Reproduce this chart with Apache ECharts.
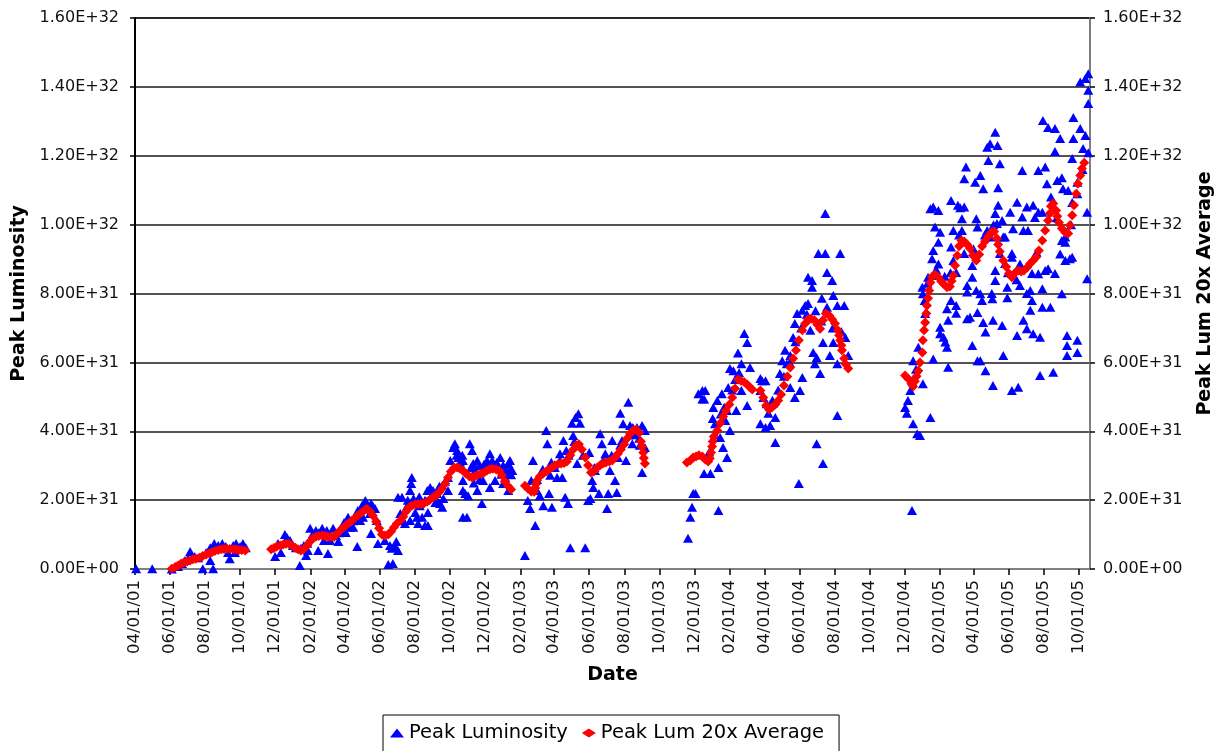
<!DOCTYPE html>
<html>
<head>
<meta charset="utf-8">
<title>Peak Luminosity</title>
<script src="https://cdn.jsdelivr.net/npm/echarts@6/dist/echarts.min.js"></script>
<style>
  html, body { margin: 0; padding: 0; background: #fff; }
  #chart { width: 1225px; height: 751px; }
</style>
</head>
<body>
<div id="chart"></div>
<script>
// x values are days counted from 04/01/01; y values are in units of 1E+31.
const LUM_UNIT = 1e31;
const axisEndDay = 1663;

const dateTicks = [
  '04/01/01', '06/01/01', '08/01/01', '10/01/01', '12/01/01',
  '02/01/02', '04/01/02', '06/01/02', '08/01/02', '10/01/02', '12/01/02',
  '02/01/03', '04/01/03', '06/01/03', '08/01/03', '10/01/03', '12/01/03',
  '02/01/04', '04/01/04', '06/01/04', '08/01/04', '10/01/04', '12/01/04',
  '02/01/05', '04/01/05', '06/01/05', '08/01/05', '10/01/05'
];

// Peak luminosity of each store: [day, value]
const peakLuminosity = [
  // 2001
  [2,0.01],[30,0.01],[64,0],[75,0.07],[82,0.16],[87,0.25],[92,0.30],[96,0.51],[104,0.36],[110,0.33],
  [118,0.01],[124,0.48],[131,0.62],[131,0.25],[136,0.01],[138,0.74],[145,0.68],[152,0.74],[158,0.65],
  [162,0.48],[165,0.30],[171,0.68],[174,0.48],[176,0.74],[183,0.65],[188,0.74],[193,0.62],
  // Dec 2001 - Jun 2002
  [244,0.36],[249,0.74],[254,0.48],[261,1.00],[265,0.91],[270,0.83],[275,0.68],[280,0.62],[287,0.10],
  [289,0.60],[294,0.68],[298,0.39],[301,0.54],[305,1.18],[310,1.03],[315,1.12],[319,0.54],[326,1.18],
  [329,0.83],[334,1.12],[336,0.45],[340,0.83],[345,1.18],[350,0.97],[354,0.80],[359,1.12],[364,1.35],
  [367,1.06],[371,1.50],[374,1.21],[380,1.21],[385,1.41],[387,0.65],[388,1.70],[392,1.41],[395,1.84],
  [397,1.50],[401,1.99],[406,1.84],[409,1.61],[411,1.90],[414,1.84],[418,1.76],[411,1.03],[423,0.74],
  [421,1.41],[300,0.75],[320,1.05],[330,1.00],[355,1.05],[370,1.25],[380,1.40],[390,1.60],[400,1.75],
  [435,0.83],[441,0.13],[444,0.68],[447,0.60],[449,0.16],[453,0.65],[455,0.80],[458,0.54],
  // Jul 2002 - Jan 2003
  [458,2.08],[462,1.61],[465,2.08],[467,1.41],[470,1.32],[474,1.84],[479,2.28],[479,1.41],[481,2.48],
  [482,2.66],[488,1.64],[491,1.50],[493,1.32],[496,1.84],[500,1.50],[505,1.26],[509,2.28],[510,1.64],
  [510,1.26],[514,2.37],[519,2.28],[523,1.93],[526,2.19],[526,1.99],[531,1.90],[535,1.79],[537,2.05],
  [545,2.66],[545,2.28],[549,3.15],[554,3.53],[557,3.64],[561,3.44],[563,3.24],[570,3.30],[571,3.15],
  [571,2.57],[571,2.28],[571,1.50],[575,2.19],[578,1.50],[580,2.13],[583,3.64],[587,3.44],[589,3.06],
  [596,3.15],[596,2.28],[604,1.90],[606,2.57],[613,3.15],[618,3.35],[618,2.37],[622,3.15],[627,2.57],
  [630,3.09],[636,3.24],[641,3.01],[641,2.48],[644,2.86],[648,2.77],[650,2.28],[650,3.06],[653,2.92],
  [653,3.15],[655,2.74],[657,2.86],
  [475,2.00],[485,2.05],[495,2.10],[505,2.00],[515,2.10],[520,2.15],[530,2.40],[540,2.55],
  [560,3.30],[566,3.10],[585,2.95],[592,2.85],[600,3.00],[608,3.05],[615,2.95],[625,3.00],[633,2.95],
  [638,2.75],[645,2.65],[600,2.60],[590,2.50],
  // 2003
  [679,0.39],[684,1.99],[688,1.76],[690,2.57],[693,3.15],[697,1.26],[700,2.28],[705,2.13],[711,1.84],
  [716,4.02],[718,3.64],[721,2.19],[723,2.72],[726,1.79],[731,2.95],[735,2.66],[740,3.15],[744,2.66],
  [746,3.73],[749,2.08],[751,3.44],[754,1.90],[758,0.62],[761,4.23],[763,3.88],[767,4.40],[772,4.51],
  [775,4.23],[770,3.06],[784,0.62],[789,1.99],[791,3.38],[793,2.05],[796,2.57],[798,2.37],[801,2.86],
  [808,2.19],[810,3.93],[813,3.64],[819,3.35],[822,1.76],[824,2.19],[827,2.86],[831,3.73],[836,2.57],
  [839,2.22],[841,3.24],[845,4.52],[848,3.73],[850,4.22],[855,3.15],[859,4.84],[862,4.17],[866,3.64],
  [867,4.11],[874,4.11],[879,3.59],[883,4.17],[888,4.02],[888,3.53],[883,2.80],
  [700,2.60],[710,2.90],[725,3.10],[740,3.35],[755,3.30],[765,3.70],[780,3.30],[800,2.95],[815,3.15],
  [830,3.30],[845,3.60],[860,3.90],[870,3.90],[878,3.80],
  // Dec 2003 - Mar 2004
  [963,0.89],[967,1.50],[970,1.79],[972,2.19],[976,2.19],[981,5.09],[988,5.18],[988,4.94],[991,2.77],
  [1002,2.77],[1016,1.70],[1016,2.95],[1019,3.82],[1024,3.53],[1031,3.24],[1006,4.37],[1007,4.69],
  [1014,4.89],[993,5.18],[991,4.94],[1022,5.09],[1031,4.60],[1036,4.02],[1033,5.27],[1036,5.82],
  [1042,5.76],[1050,6.27],[1056,5.96],[1061,6.84],[1066,6.58],[1071,5.85],[1066,4.75],[1056,5.18],
  [1047,4.60],[1010,4.22],[1028,4.31],
  [1000,3.40],[1010,3.90],[1020,4.50],[1026,4.70],[1040,5.20],[1045,5.50],[1052,5.70],
  // Apr - Aug 2004
  [1089,5.53],[1092,5.47],[1098,5.47],[1089,5.18],[1094,4.98],[1089,4.22],[1098,4.11],[1106,4.17],
  [1115,4.40],[1111,4.81],[1115,3.67],[1103,4.52],[1123,5.68],[1127,6.05],[1135,5.96],[1141,6.20],
  [1146,6.72],[1149,7.13],[1153,7.42],[1141,5.27],[1149,4.98],[1158,5.18],[1162,5.56],[1156,2.48],
  [1162,7.51],[1167,7.65],[1172,8.47],[1179,8.38],[1179,8.18],[1172,7.71],[1181,6.29],[1187,6.14],
  [1184,5.96],[1193,5.68],[1187,3.64],[1190,9.16],[1202,9.16],[1202,10.32],[1228,9.16],[1205,8.61],
  [1214,8.38],[1216,7.94],[1223,7.65],[1235,7.65],[1196,7.86],[1198,6.58],[1210,6.20],[1216,6.58],
  [1223,5.96],[1237,6.72],[1242,6.20],[1223,4.46],[1198,3.06],[1132,6.35],[1176,6.93],
  [1100,4.80],[1110,4.90],[1120,5.20],[1130,5.60],[1140,6.00],[1150,6.60],[1160,7.00],[1170,7.40],
  [1185,7.50],[1195,7.20],[1205,7.60],[1215,7.00],[1230,6.90],
  // Dec 2004 - Oct 2005
  [1353,1.70],[1341,4.69],[1344,4.52],[1346,4.89],[1350,5.18],[1353,5.47],[1355,4.22],[1362,3.93],
  [1367,3.88],[1355,6.05],[1364,6.44],[1372,5.38],[1385,4.40],[1390,6.10],[1371,8.18],[1372,7.99],
  [1376,7.42],[1381,8.47],[1385,10.46],[1390,10.51],[1399,10.41],[1393,9.93],[1388,9.01],[1390,9.25],
  [1399,9.49],[1402,9.78],[1399,8.86],[1402,6.83],[1408,6.73],[1402,7.02],[1411,6.59],[1414,6.44],
  [1416,5.86],[1414,7.56],[1416,7.22],[1421,7.80],[1430,7.65],[1425,8.96],[1421,9.35],[1425,9.83],
  [1421,10.70],[1433,10.56],[1440,9.83],[1440,10.17],[1444,10.51],[1447,11.67],[1444,11.33],[1449,8.04],
  [1454,7.31],[1458,6.49],[1449,8.23],[1463,11.23],[1472,11.43],[1477,11.04],[1465,10.17],[1467,9.93],
  [1458,8.81],[1465,8.09],[1472,7.99],[1467,7.45],[1477,7.16],[1472,6.05],[1481,5.76],[1484,12.25],
  [1486,11.86],[1498,12.68],[1489,12.35],[1502,12.30],[1506,11.77],[1503,11.07],[1545,11.57],[1573,11.57],
  [1585,11.67],[1588,11.19],[1606,11.28],[1614,11.36],[1616,11.04],[1625,10.99],[1641,10.90],[1641,11.23],
  [1536,10.65],[1503,10.56],[1524,10.36],[1498,10.32],[1553,10.51],[1564,10.56],[1573,10.36],[1580,10.36],
  [1545,10.22],[1547,9.83],[1529,9.88],[1510,10.12],[1515,9.64],[1614,9.54],[1620,9.49],[1658,10.36],
  [1611,9.15],[1620,8.96],[1628,9.01],[1590,8.72],[1573,8.57],[1541,8.86],[1527,9.05],[1498,8.38],
  [1519,8.18],[1541,8.23],[1559,8.09],[1580,8.14],[1614,7.99],[1658,8.43],[1493,7.85],[1475,7.80],
  [1519,7.88],[1562,7.80],[1580,7.60],[1594,7.60],[1547,7.22],[1559,7.51],[1553,6.98],[1564,6.83],
  [1576,6.73],[1536,6.78],[1510,7.07],[1494,7.22],[1481,6.88],[1623,6.78],[1641,6.64],[1623,6.49],
  [1641,6.29],[1623,6.20],[1512,6.20],[1494,5.33],[1527,5.18],[1538,5.28],[1576,5.62],[1599,5.71],
  [1660,14.38],[1655,14.24],[1646,14.14],[1660,13.90],[1660,13.52],[1581,13.02],[1590,12.82],[1602,12.79],
  [1611,12.50],[1602,12.12],[1634,13.11],[1646,12.79],[1655,12.59],[1634,12.50],[1651,12.21],[1660,12.09],
  [1632,11.92],[1437,10.49],[1506,9.16],[1515,8.87],[1498,8.67],[1393,8.52],[1430,8.61],[1458,8.47],
  [1562,8.58],[1585,8.67],[1602,8.58],[1632,9.05],[1620,9.64],[1492,8.00],[1553,8.00],[1444,9.16],
  [1527,9.16],[1512,9.64],[1489,9.64],[1484,9.83],[1501,10.03],[1567,10.21],[1555,9.83],[1632,10.64],
  [1430,7.43],[1449,7.27],[1467,6.05],
  [1360,5.80],[1375,7.80],[1380,8.30],[1395,8.70],[1410,8.50],[1420,8.60],[1435,9.70],[1460,9.30],
  [1480,9.70],[1495,10.00],[1520,8.60],[1535,8.40],[1570,9.20],[1595,10.80],[1605,10.20],[1630,10.00],
  [1650,11.60]
];

// Running average over 20 stores: [day, value]
const peakLumAverage = [
  [64,0.01],[70,0.06],[75,0.10],[80,0.15],[85,0.19],[91,0.22],[96,0.25],[101,0.28],[106,0.30],
  [113,0.33],[118,0.38],[124,0.42],[129,0.46],[134,0.49],[139,0.52],[145,0.55],[150,0.57],[155,0.58],
  [160,0.59],[165,0.58],[171,0.57],[176,0.57],[181,0.55],[186,0.55],[192,0.54],
  [237,0.57],[242,0.61],[247,0.65],[253,0.68],[258,0.71],[263,0.73],[268,0.73],[273,0.68],[279,0.62],
  [284,0.57],[289,0.54],[294,0.58],[300,0.68],[305,0.80],[310,0.90],[315,0.94],[320,0.96],[326,0.97],
  [331,0.96],[336,0.94],[341,0.93],[347,0.94],[352,1.03],[357,1.12],[362,1.19],[367,1.26],[373,1.34],
  [378,1.41],[383,1.48],[388,1.55],[394,1.63],[399,1.70],[404,1.74],[409,1.68],[414,1.55],[420,1.38],
  [425,1.18],[430,1.00],[435,0.97],[441,1.00],[446,1.09],[451,1.21],[456,1.32],[462,1.41],[467,1.52],
  [472,1.67],[477,1.79],[482,1.84],[488,1.87],[493,1.89],[498,1.89],[503,1.90],[509,1.96],[514,2.02],
  [519,2.08],[524,2.13],[529,2.22],[535,2.34],[540,2.48],[545,2.66],[550,2.83],[556,2.95],[561,2.95],
  [566,2.91],[571,2.86],[576,2.77],[582,2.69],[587,2.66],[592,2.69],[597,2.74],[603,2.77],[608,2.80],
  [613,2.86],[618,2.90],[623,2.91],[629,2.89],[634,2.86],[639,2.72],[644,2.54],[650,2.40],[655,2.31],
  [679,2.42],[684,2.34],[690,2.25],[695,2.24],[697,2.35],[698,2.46],[700,2.57],[705,2.69],[711,2.77],
  [716,2.83],[721,2.89],[726,2.95],[731,3.01],[737,3.05],[742,3.06],[747,3.08],[752,3.12],[758,3.30],
  [763,3.47],[768,3.59],[773,3.62],[778,3.47],[784,3.24],[789,3.01],[794,2.80],[799,2.83],[805,2.95],
  [810,3.01],[815,3.06],[820,3.09],[826,3.12],[831,3.15],[836,3.24],[841,3.35],[846,3.47],[852,3.62],
  [857,3.79],[862,3.93],[867,4.02],[873,4.04],[878,3.96],[881,3.70],[883,3.55],[885,3.38],[886,3.22],
  [888,3.06],
  [961,3.09],[967,3.15],[972,3.24],[977,3.27],[982,3.30],[988,3.27],[993,3.18],[998,3.12],[1001,3.21],
  [1003,3.38],[1005,3.56],[1006,3.70],[1008,3.85],[1014,4.02],[1019,4.23],[1024,4.43],[1029,4.60],
  [1035,4.78],[1040,4.98],[1045,5.24],[1050,5.50],[1055,5.47],[1061,5.42],[1066,5.36],[1071,5.27],
  [1075,5.21],
  [1089,5.18],[1094,4.98],[1099,4.75],[1104,4.63],[1109,4.69],[1115,4.78],[1120,4.89],[1125,5.07],
  [1130,5.33],[1136,5.59],[1141,5.85],[1146,6.11],[1151,6.35],[1156,6.64],[1162,6.93],[1167,7.13],
  [1172,7.25],[1177,7.27],[1183,7.22],[1188,7.10],[1193,6.98],[1198,7.22],[1203,7.42],[1209,7.36],
  [1214,7.25],[1219,7.13],[1224,6.93],[1226,6.79],[1228,6.64],[1230,6.50],[1231,6.35],[1235,6.11],
  [1238,5.94],[1242,5.82],
  [1341,5.62],[1346,5.53],[1352,5.39],[1355,5.30],[1358,5.45],[1361,5.60],[1364,5.76],[1367,6.00],
  [1371,6.29],[1372,6.64],[1374,6.93],[1376,7.16],[1378,7.42],[1379,7.65],[1381,7.86],[1383,8.09],
  [1385,8.32],[1388,8.49],[1393,8.55],[1399,8.47],[1404,8.35],[1409,8.26],[1414,8.18],[1419,8.20],
  [1422,8.36],[1425,8.52],[1428,8.81],[1432,9.10],[1435,9.37],[1439,9.54],[1444,9.51],[1449,9.42],
  [1454,9.31],[1459,9.10],[1465,8.96],[1470,9.13],[1475,9.37],[1480,9.51],[1486,9.66],[1491,9.77],
  [1496,9.80],[1501,9.60],[1503,9.42],[1506,9.22],[1512,8.96],[1517,8.78],[1522,8.58],[1527,8.47],
  [1533,8.61],[1538,8.67],[1543,8.64],[1548,8.67],[1554,8.76],[1559,8.87],[1564,8.96],[1569,9.05],
  [1574,9.25],[1580,9.54],[1585,9.83],[1590,10.12],[1593,10.32],[1595,10.53],[1599,10.61],[1604,10.41],
  [1606,10.24],[1609,10.06],[1614,9.89],[1620,9.77],[1625,9.74],[1628,9.98],[1632,10.27],[1635,10.56],
  [1639,10.90],[1642,11.19],[1646,11.43],[1649,11.63],[1653,11.80]
];

// Day number of a MM/DD/YY label, counted from 04/01/01.
function dayOf(label) {
  const [m, d, y] = label.split('/').map(Number);
  return Math.round((Date.UTC(2000 + y, m - 1, d) - Date.UTC(2001, 3, 1)) / 86400000);
}
const tickDays = dateTicks.map(dayOf);

function dateLabel(value) {
  const i = tickDays.indexOf(Math.round(value));
  return i >= 0 ? dateTicks[i] : '';
}

// Excel-style scientific labels: 1.60E+32, 0.00E+00
function sciLabel(value) {
  return value.toExponential(2).toUpperCase()
    .replace(/E([+-])(\d)$/, (m, sign, digit) => 'E' + sign + '0' + digit);
}

const toPoints = rows => rows.map(([day, v]) => [day, v * LUM_UNIT]);

const FONT = 'DejaVu Sans';

const yAxisBase = {
  type: 'value',
  min: 0,
  max: 1.6e32,
  interval: 2e31,
  nameLocation: 'middle',
  nameRotate: 90,
  nameGap: 106,
  nameTextStyle: { fontFamily: FONT, fontSize: 19, fontWeight: 'bold', color: '#000' },
  axisTick: { show: true, inside: false, length: 5, lineStyle: { color: '#000', width: 1.5 } },
  axisLabel: { formatter: sciLabel, fontFamily: FONT, fontSize: 16, color: '#111' }
};

const chart = echarts.init(document.getElementById('chart'), null, { renderer: 'canvas' });

chart.setOption({
  animation: false,
  backgroundColor: '#ffffff',
  textStyle: { fontFamily: FONT },
  grid: { left: 135, right: 135, top: 18, bottom: 182, containLabel: false },
  legend: {
    left: 383,
    top: 715,
    orient: 'horizontal',
    padding: [7, 15, 40, 7],
    itemGap: 14,
    itemWidth: 14,
    itemHeight: 9,
    borderColor: '#000',
    borderWidth: 1,
    textStyle: { fontFamily: FONT, fontSize: 19.5, color: '#000', lineHeight: 22 },
    data: [
      { name: 'Peak Luminosity', icon: 'triangle' },
      { name: 'Peak Lum 20x Average', icon: 'diamond' }
    ]
  },
  xAxis: {
    type: 'value',
    min: 0,
    max: axisEndDay,
    name: 'Date',
    nameLocation: 'middle',
    nameGap: 97,
    nameTextStyle: { fontFamily: FONT, fontSize: 19, fontWeight: 'bold', color: '#000' },
    axisLine: { show: true, onZero: false, lineStyle: { color: '#7f7f7f', width: 2 } },
    axisTick: { show: true, customValues: tickDays, length: 6, lineStyle: { color: '#000', width: 1.5 } },
    axisLabel: {
      customValues: tickDays,
      formatter: dateLabel,
      rotate: 90,
      margin: 11,
      fontFamily: FONT,
      fontSize: 16.5,
      color: '#111'
    },
    splitLine: { show: false }
  },
  yAxis: [
    Object.assign({}, yAxisBase, {
      position: 'left',
      name: 'Peak Luminosity',
      axisLine: { show: true, lineStyle: { color: '#000', width: 2 } },
      axisLabel: Object.assign({}, yAxisBase.axisLabel, { margin: 16 }),
      splitLine: { show: true, lineStyle: { color: '#1a1a1a', width: 1.5 } }
    }),
    Object.assign({}, yAxisBase, {
      position: 'right',
      name: 'Peak Lum 20x Average',
      axisLine: { show: true, lineStyle: { color: '#7f7f7f', width: 2 } },
      axisLabel: Object.assign({}, yAxisBase.axisLabel, { margin: 13 }),
      splitLine: { show: false }
    })
  ],
  series: [
    {
      name: 'Peak Luminosity',
      type: 'scatter',
      yAxisIndex: 0,
      symbol: 'triangle',
      symbolSize: [10, 9],
      itemStyle: { color: '#0000ff', opacity: 1 },
      emphasis: { disabled: true },
      data: toPoints(peakLuminosity)
    },
    {
      name: 'Peak Lum 20x Average',
      type: 'scatter',
      yAxisIndex: 1,
      symbol: 'diamond',
      symbolSize: [10, 10],
      itemStyle: { color: '#ff0000', opacity: 1 },
      emphasis: { disabled: true },
      data: toPoints(peakLumAverage)
    }
  ]
});
</script>
</body>
</html>
